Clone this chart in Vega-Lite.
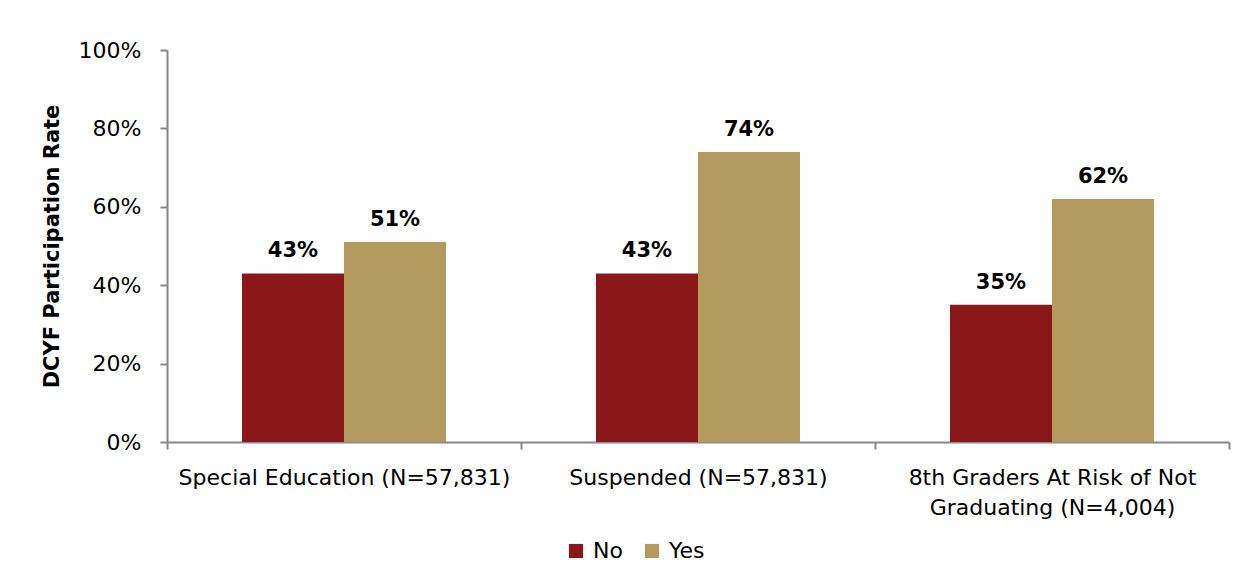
{
  "$schema": "https://vega.github.io/schema/vega-lite/v6.json",
  "width": 1062,
  "height": 392,
  "autosize": "none",
  "padding": {"left": 167, "top": 50, "right": 12, "bottom": 138},
  "background": "white",
  "config": {
    "view": {"stroke": null},
    "font": "DejaVu Sans",
    "axis": {"domainColor": "#888888", "tickColor": "#888888", "domainWidth": 2, "tickWidth": 2, "labelColor": "#000000", "titleColor": "#000000", "grid": false, "labelFont": "DejaVu Sans", "titleFont": "DejaVu Sans"},
    "legend": {"labelFont": "DejaVu Sans"}
  },
  "data": {
    "values": [
      {"group": "Special Education (N=57,831)", "response": "No", "rate": 0.43},
      {"group": "Special Education (N=57,831)", "response": "Yes", "rate": 0.51},
      {"group": "Suspended (N=57,831)", "response": "No", "rate": 0.43},
      {"group": "Suspended (N=57,831)", "response": "Yes", "rate": 0.74},
      {"group": "8th Graders At Risk of Not Graduating (N=4,004)", "response": "No", "rate": 0.35},
      {"group": "8th Graders At Risk of Not Graduating (N=4,004)", "response": "Yes", "rate": 0.62}
    ]
  },
  "encoding": {
    "x": {
      "field": "group", "type": "nominal", "sort": null,
      "scale": {"paddingInner": 0, "paddingOuter": 0},
      "axis": {
        "title": null, "labelAngle": 0, "tickBand": "extent", "tickSize": 7,
        "labelFontSize": 22, "labelPadding": 18, "labelLineHeight": 30, "labelLimit": 0,
        "labelExpr": "datum.value == '8th Graders At Risk of Not Graduating (N=4,004)' ? ['8th Graders At Risk of Not', 'Graduating (N=4,004)'] : datum.value"
      }
    },
    "xOffset": {"field": "response", "type": "nominal", "sort": ["No", "Yes"], "scale": {"paddingOuter": 0.735, "paddingInner": 0}},
    "y": {
      "field": "rate", "type": "quantitative",
      "scale": {"domain": [0, 1]},
      "axis": {
        "title": "DCYF Participation Rate", "titleFontSize": 21, "titleFontWeight": "bold", "titlePadding": 16,
        "values": [0, 0.2, 0.4, 0.6, 0.8, 1], "format": ".0%",
        "labelFontSize": 22, "labelPadding": 19, "tickSize": 7
      }
    }
  },
  "layer": [
    {
      "mark": {"type": "bar"},
      "encoding": {
        "color": {
          "field": "response", "type": "nominal",
          "scale": {"domain": ["No", "Yes"], "range": ["#8B1818", "#B39A5E"]},
          "legend": {
            "title": null, "orient": "none", "direction": "horizontal", "legendX": 398, "legendY": 490,
            "symbolType": "square", "symbolSize": 200, "symbolStrokeWidth": 0,
            "labelFontSize": 22, "labelColor": "#000000", "columnPadding": 18, "labelOffset": 6
          }
        }
      }
    },
    {
      "mark": {"type": "text", "baseline": "bottom", "dy": -12, "fontSize": 21, "fontWeight": "bold", "color": "#000000"},
      "encoding": {
        "text": {"field": "rate", "type": "quantitative", "format": ".0%"}
      }
    }
  ]
}
